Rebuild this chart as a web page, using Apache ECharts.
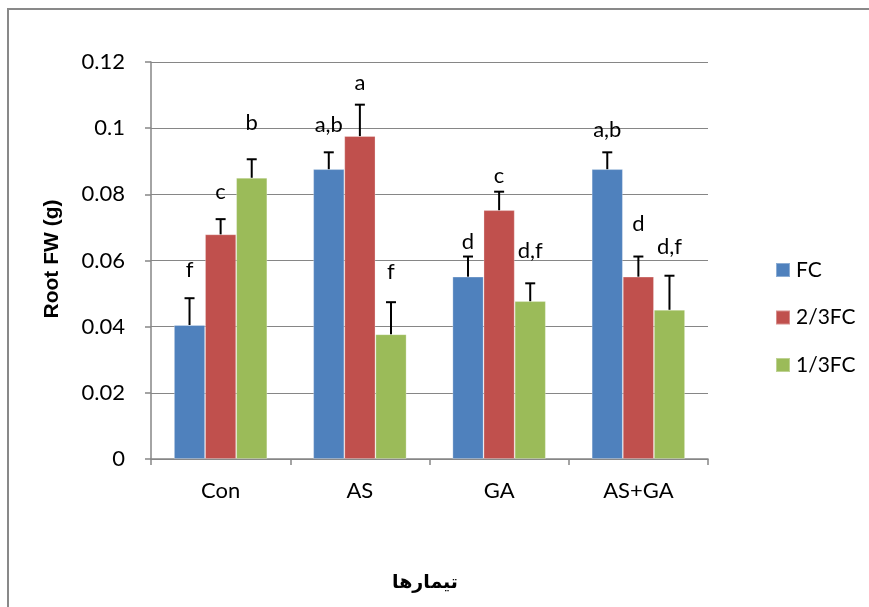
<!DOCTYPE html>
<html>
<head>
<meta charset="utf-8">
<script src="https://cdn.jsdelivr.net/npm/echarts@6/dist/echarts.min.js"></script>
<style>html,body{margin:0;padding:0;background:#fff}#chart{width:869px;height:607px}</style>
</head>
<body>
<div id="chart"></div>
<script>
// Treatments and water regimes
const categories = ['Con', 'AS', 'GA', 'AS+GA'];
const seriesNames = ['FC', '2/3FC', '1/3FC'];

// Mean root fresh weight (g)
const fcValues   = [0.0405, 0.0876, 0.0551, 0.0876];
const fc23Values = [0.0679, 0.0976, 0.0752, 0.0551];
const fc13Values = [0.0850, 0.0377, 0.0477, 0.0451];

// Standard errors
const fcErr   = [0.0081, 0.0051, 0.0061, 0.0051];
const fc23Err = [0.0046, 0.0095, 0.0056, 0.0061];
const fc13Err = [0.0056, 0.0097, 0.0054, 0.0103];

// Significance letters
const fcLetters   = ['f', 'a,b', 'd', 'a,b'];
const fc23Letters = ['c', 'a', 'c', 'd'];
const fc13Letters = ['b', 'f', 'd,f', 'd,f'];

// Vertical distance (px) from each error cap to the centre of its letter
const letterGap = [
  [28, 27, 15, 22],
  [27, 22, 16, 33],
  [36, 30, 32, 29]
];

const colors = ['#4F81BD', '#C0504D', '#9BBB59'];
const values = [fcValues, fc23Values, fc13Values];
const errors = [fcErr, fc23Err, fc13Err];
const letters = [fcLetters, fc23Letters, fc13Letters];

const CAT_GAP = 0.33;
const FONT = 'Lato, "Open Sans", sans-serif';
const chart = echarts.init(document.getElementById('chart'));

const barSeries = seriesNames.map((name, s) => ({
  name: name,
  type: 'bar',
  data: values[s],
  barGap: '0%',
  barCategoryGap: (CAT_GAP * 100) + '%',
  itemStyle: { color: colors[s], borderColor: 'rgba(255,255,255,0.35)', borderWidth: 0.8 },
  z: 2
}));

const errSeries = seriesNames.map((name, s) => ({
  type: 'custom',
  name: name + '-err',
  data: values[s].map((v, i) => [i, v, errors[s][i]]),
  z: 5,
  renderItem: function (params, api) {
    const ci = api.value(0);
    const v = api.value(1);
    const e = api.value(2);
    const band = api.size([1, 0])[0];
    const bw = band * (1 - CAT_GAP) / 3;
    const base = api.coord([ci, v]);
    const top = api.coord([ci, v + e]);
    const x = base[0] + (s - 1) * bw;
    const cap = 5;
    return {
      type: 'group',
      children: [
        { type: 'line', shape: { x1: x, y1: base[1], x2: x, y2: top[1] }, style: { stroke: '#000', lineWidth: 2 } },
        { type: 'line', shape: { x1: x - cap, y1: top[1], x2: x + cap, y2: top[1] }, style: { stroke: '#000', lineWidth: 2 } },
        { type: 'text', x: x, y: top[1] - letterGap[s][ci],
          style: { text: letters[s][ci], fill: '#000', font: '22px ' + FONT, align: 'center', verticalAlign: 'middle' } }
      ]
    };
  }
}));

chart.setOption({
  animation: false,
  backgroundColor: '#fff',
  color: colors,
  graphic: [
    { type: 'polyline', shape: { points: [[8, 700], [8, 9], [900, 9]] }, style: { fill: 'none', stroke: '#898989', lineWidth: 2 }, z: -1 },
    { type: 'text', x: 52, y: 259, rotation: Math.PI / 2,
      style: { text: 'Root FW (g)', fill: '#000', font: 'bold 21px "Liberation Sans", Arial, sans-serif', align: 'center', verticalAlign: 'middle' } },
    { type: 'text', x: 425, y: 583,
      style: { text: 'تیمارها', fill: '#000', font: 'bold 19px "DejaVu Sans", sans-serif', align: 'center', verticalAlign: 'middle' } }
  ],
  legend: {
    orient: 'vertical',
    left: 770,
    top: 253,
    itemGap: 23.5,
    itemWidth: 14,
    itemHeight: 14,
    icon: 'rect',
    data: seriesNames,
    textStyle: { fontSize: 21, lineHeight: 24, fontFamily: FONT, color: '#000', padding: [0, 0, 0, 1] }
  },
  grid: { left: 151, right: 161, top: 62, bottom: 148, containLabel: false },
  xAxis: {
    type: 'category',
    data: categories,
    axisLine: { lineStyle: { color: '#868686', width: 1.5 } },
    axisTick: { show: true, alignWithLabel: false, length: 6, lineStyle: { color: '#868686', width: 1.5 } },
    axisLabel: { color: '#000', fontSize: 22, fontFamily: FONT, margin: 21 }
  },
  yAxis: {
    type: 'value',
    min: 0, max: 0.12, interval: 0.02,
    axisLine: { show: true, lineStyle: { color: '#868686', width: 1.5 } },
    axisTick: { show: true, length: 6, lineStyle: { color: '#868686', width: 1.5 } },
    splitLine: { lineStyle: { color: '#868686', width: 1.2 } },
    axisLabel: { color: '#000', fontSize: 22, fontFamily: FONT, margin: 26 }
  },
  series: barSeries.concat(errSeries)
});
</script>
</body>
</html>
